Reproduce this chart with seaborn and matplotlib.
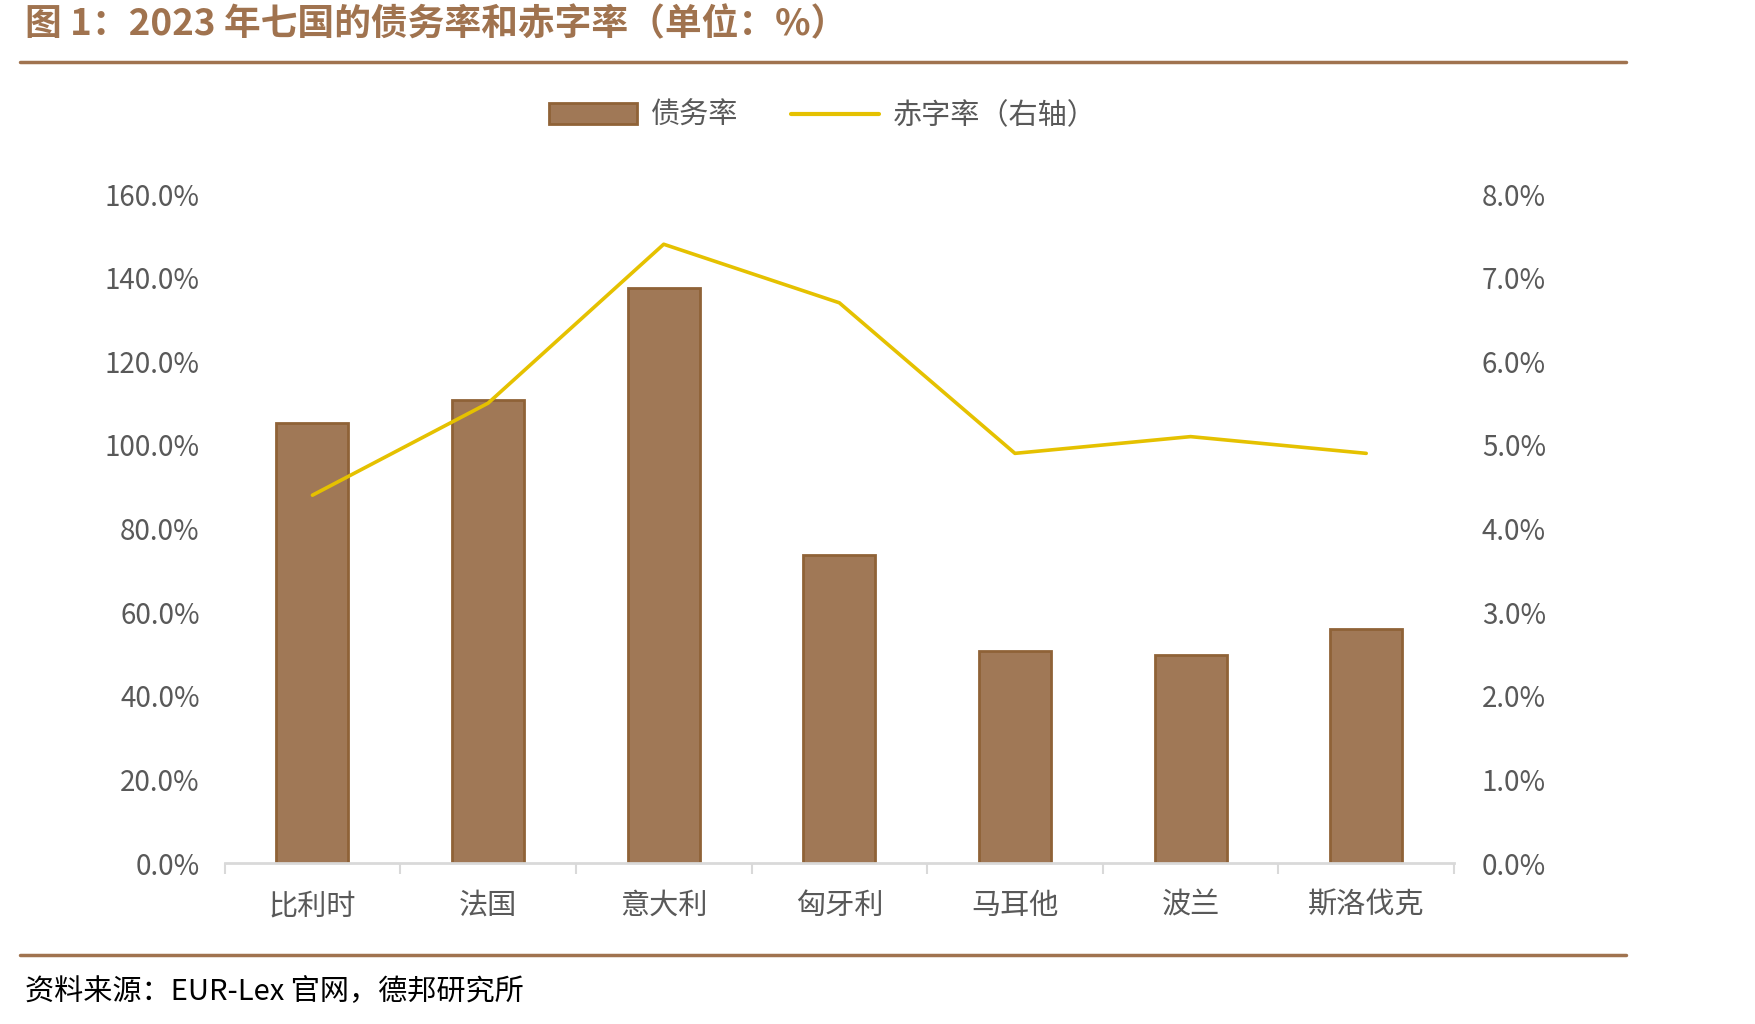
import numpy as np
import pandas as pd
import matplotlib
matplotlib.use("Agg")
import matplotlib.pyplot as plt
from matplotlib.lines import Line2D
from matplotlib.patches import Patch
from matplotlib.ticker import FuncFormatter, FixedLocator
import seaborn as sns

# data
countries = ['比利时', '法国', '意大利', '匈牙利', '马耳他', '波兰', '斯洛伐克']
debt_ratio = [105.3, 110.8, 137.6, 73.7, 50.7, 49.7, 56.1]      # 债务率, %
deficit_ratio = [4.4, 5.5, 7.4, 6.7, 4.9, 5.1, 4.9]            # 赤字率, % (right axis)
left_ticks = [0, 20, 40, 60, 80, 100, 120, 140, 160]
right_ticks = [0, 1, 2, 3, 4, 5, 6, 7, 8]

df = pd.DataFrame({'country': countries, 'debt': debt_ratio, 'deficit': deficit_ratio})

sns.set_style('white')
plt.rcParams['font.family'] = ['Noto Sans CJK SC', 'DejaVu Sans']

brown = '#A0734F'
bar_face = '#A07856'
bar_edge = '#8F6237'
yellow = '#E5C100'
grey_txt = '#595959'

fig = plt.figure(figsize=(17.55, 10.24), dpi=100)
ax = fig.add_axes([0.128, 0.157, 0.7005, 0.6535])

sns.barplot(data=df, x='country', y='debt', order=countries, color=bar_face,
            edgecolor=bar_edge, linewidth=2, width=0.41, saturation=1, ax=ax)

ax2 = ax.twinx()
sns.lineplot(data=df, x='country', y='deficit', sort=False, color=yellow,
             linewidth=2.6, ax=ax2)

ax.set_xlim(-0.5, len(countries) - 0.5)
ax.set_ylim(0, 160)
ax2.set_ylim(0, 8)
ax.set_yticks(left_ticks)
ax2.set_yticks(right_ticks)
ax.yaxis.set_major_formatter(FuncFormatter(lambda v, p: f'{v:.1f}%'))
ax2.yaxis.set_major_formatter(FuncFormatter(lambda v, p: f'{v:.1f}%'))

for a in (ax, ax2):
    a.set_xlabel('')
    a.set_ylabel('')
    for s in ['top', 'left', 'right', 'bottom']:
        a.spines[s].set_visible(False)
    a.grid(False)

ax.spines['bottom'].set_visible(True)
ax.spines['bottom'].set_color('#D9D9D9')
ax.spines['bottom'].set_linewidth(2)

# category boundary ticks below the axis line
ax.xaxis.set_minor_locator(FixedLocator(np.arange(-0.5, len(countries), 1.0)))
ax.tick_params(axis='x', which='minor', bottom=True, length=8, width=1.5,
               color='#D9D9D9', direction='out')
ax.tick_params(axis='x', which='major', bottom=True, length=0, pad=20, labelsize=21,
               labelcolor=grey_txt)
ax.tick_params(axis='y', length=0, pad=18, labelsize=20, labelcolor=grey_txt)
ax2.tick_params(axis='y', length=0, pad=20, labelsize=20, labelcolor=grey_txt)

# title and rules
fig.text(0.0142, 0.976, '图 1：2023 年七国的债务率和赤字率（单位：%）', fontsize=26.5,
         fontweight='bold', color=brown, ha='left', va='center')
fig.add_artist(Line2D([0.0114, 0.9265], [0.9395, 0.9395], color=brown, linewidth=2.5,
                      transform=fig.transFigure))
fig.add_artist(Line2D([0.0114, 0.9265], [0.0674, 0.0674], color=brown, linewidth=2.5,
                      transform=fig.transFigure))
fig.text(0.0142, 0.031, '资料来源：EUR-Lex 官网，德邦研究所', fontsize=21,
         color='black', ha='left', va='center')

handles = [Patch(facecolor=bar_face, edgecolor=bar_edge, linewidth=2),
           Line2D([0], [0], color=yellow, linewidth=3)]
fig.legend(handles, ['债务率', '赤字率（右轴）'], loc='center', bbox_to_anchor=(0.469, 0.887),
           ncol=2, frameon=False, fontsize=21, labelcolor=grey_txt,
           handlelength=3.0, handleheight=0.7, columnspacing=1.8, handletextpad=0.5)

fig.savefig('out.png', dpi=100)
